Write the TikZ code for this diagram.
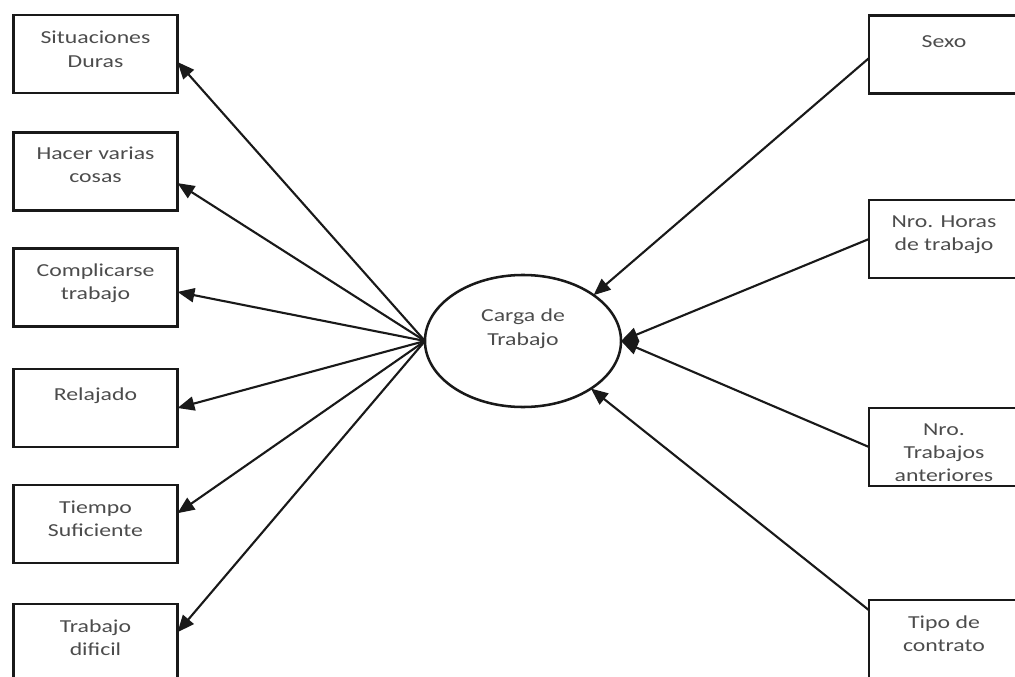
\documentclass[tikz,border=0pt]{standalone}
\usepackage{fontspec}
\setmainfont[FakeStretch=1.3]{Carlito}
\usetikzlibrary{arrows.meta,shapes.geometric}
\begin{document}
\begin{tikzpicture}[x=0.025cm,y=-0.025cm,
  box/.style={draw=black!90, line width=2.1pt, minimum width=4.1cm, minimum height=1.95cm, inner sep=0pt, outer sep=0pt},
  rbox/.style={box, minimum width=3.75cm},
  txt/.style={anchor=north, align=center, inner sep=0pt, text=black!70, font=\fontsize{13}{16.5}\selectfont, execute at begin node=\strut},
  arr/.style={line width=1.5pt, draw=black!90, -{Triangle[length=12pt,width=10pt]}},
]
\useasboundingbox (0,0) rectangle (1015,677);
\clip (0,0) rectangle (1015,677);

% central latent variable
\node[ellipse, draw=black!90, line width=1.8pt, minimum width=4.9cm, minimum height=3.3cm, inner sep=0pt, outer sep=0pt] (E) at (523,341) {};
\node[txt] (Et) at (523,309) {Carga de\\Trabajo};

% left boxes
\node[box] (L1) at (95.5,54) {};
\node[box] (L2) at (95.5,171.5) {};
\node[box] (L3) at (95.5,287.5) {};
\node[box] (L4) at (95.5,408) {};
\node[box] (L5) at (95.5,524) {};
\node[box] (L6) at (95.5,643) {};
\node[txt] (L1t) at ([yshift=-0.4cm]L1.north) {Situaciones\\Duras};
\node[txt] (L2t) at ([yshift=-0.35cm]L2.north) {Hacer varias\\cosas};
\node[txt] (L3t) at ([yshift=-0.38cm]L3.north) {Complicarse\\trabajo};
\node[txt] (L4t) at ([yshift=-0.38cm]L4.north) {Relajado};
\node[txt] (L5t) at ([yshift=-0.38cm]L5.north) {Tiempo\\Suficiente};
\node[txt] (L6t) at ([yshift=-0.38cm]L6.north) {Trabajo\\dificil};

% right boxes
\node[rbox] (R1) at (944,54.5) {};
\node[rbox] (R2) at (944,239) {};
\node[rbox] (R3) at (944,447) {};
\node[rbox] (R4) at (944,639) {};
\node[txt] (R1t) at ([yshift=-0.38cm]R1.north) {Sexo};
\node[txt] (R2t) at ([yshift=-0.38cm]R2.north) {Nro. Horas\\de trabajo};
\node[txt] (R3t) at ([yshift=-0.38cm]R3.north) {Nro.\\Trabajos\\anteriores};
\node[txt] (R4t) at ([yshift=-0.38cm]R4.north) {Tipo de\\contrato};

% left arrows (from latent to indicators)
\draw[arr] (E.west) -- ([yshift=-0.2cm]L1.east);
\draw[arr] (E.west) -- ([yshift=-0.29cm]L2.east);
\draw[arr] (E.west) -- ([yshift=-0.11cm]L3.east);
\draw[arr] (E.west) -- (L4.east);
\draw[arr] (E.west) -- ([yshift=0.27cm]L5.east);
\draw[arr] (E.west) -- ([yshift=0.27cm]L6.east);

% right arrows (from causes to latent)
\draw[arr] ([yshift=-0.09cm]R1.west) -- (E.33);
\draw[arr] (R2.west) -- (E.east);
\draw[arr] (R3.west) -- (E.east);
\draw[arr] ([yshift=0.72cm]R4.west) -- (E.-35);
\end{tikzpicture}
\end{document}
